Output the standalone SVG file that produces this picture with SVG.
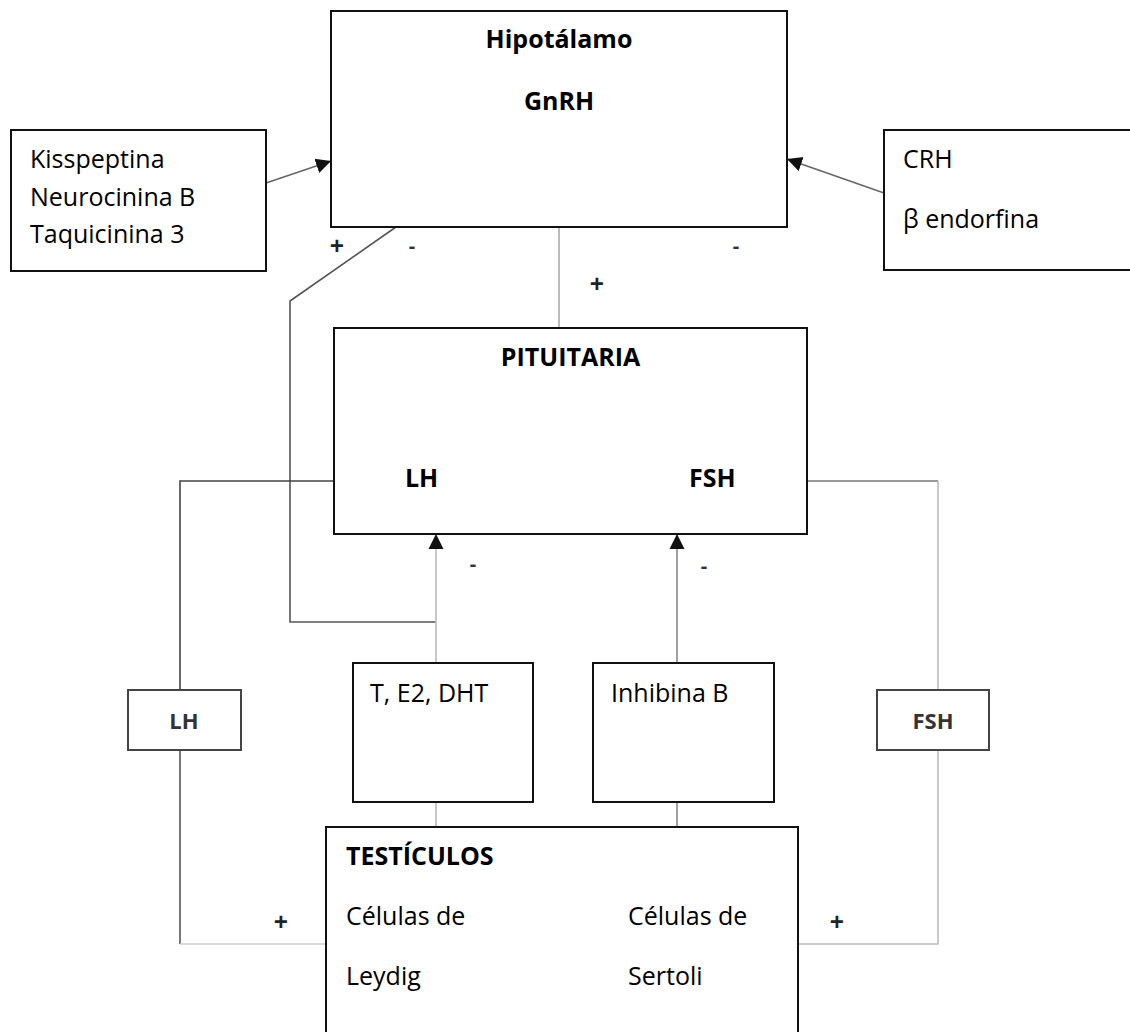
<svg xmlns="http://www.w3.org/2000/svg" width="1130" height="1032" viewBox="0 0 1130 1032">
<style>
  .box { fill: #fff; stroke: #111; stroke-width: 2; }
  .sbox { fill: #fff; stroke: #444; stroke-width: 2; }
  .t { font-family: "Open Sans", "Liberation Sans", sans-serif; font-size: 25px; fill: #000; }
  .b { font-family: "Open Sans", "Liberation Sans", sans-serif; font-size: 25px; font-weight: bold; fill: #000; }
  .s { font-family: "Open Sans", "Liberation Sans", sans-serif; font-size: 22px; font-weight: bold; fill: #333; text-anchor: middle; }
  .plus { font-family: "Open Sans", "Liberation Sans", sans-serif; font-size: 25px; font-weight: bold; fill: #222; text-anchor: middle; }
  .minus { font-family: "Open Sans", "Liberation Sans", sans-serif; font-size: 20px; font-weight: bold; fill: #333; text-anchor: middle; }
  .c { fill: none; stroke-width: 1.6; }
</style>
<defs>
  <marker id="arr" viewBox="0 0 15 16" refX="15" refY="8" markerWidth="15" markerHeight="16" orient="auto" markerUnits="userSpaceOnUse">
    <path d="M0,0.5 L15,8 L0,15.5 z" fill="#111"/>
  </marker>
</defs>
<rect width="1130" height="1032" fill="#fff"/>

<g id="connectors">
  <path class="c" stroke="#666" d="M266,183 L331,161" marker-end="url(#arr)"/>
  <path class="c" stroke="#666" d="M884,193 L787,159" marker-end="url(#arr)"/>
  <path class="c" stroke="#aaa" d="M559,227 L559,328"/>
  <path class="c" stroke="#555" d="M396,227 L290,301 L290,622 L436,622"/>
  <path class="c" stroke="#bbb" d="M436,663 L436,534" marker-end="url(#arr)"/>
  <path class="c" stroke="#bbb" d="M436,802 L436,827"/>
  <path class="c" stroke="#888" d="M677,663 L677,534" marker-end="url(#arr)"/>
  <path class="c" stroke="#888" d="M677,802 L677,827"/>
  <path class="c" stroke="#444" d="M334,481 L180,481 L180,690"/>
  <path class="c" stroke="#555" d="M180,750 L180,944"/>
  <path class="c" stroke="#ccc" d="M180,944 L326,944"/>
  <path class="c" stroke="#777" d="M807,481 L938,481"/>
  <path class="c" stroke="#bbb" d="M938,481 L938,690"/>
  <path class="c" stroke="#bbb" d="M938,750 L938,944 L798,944"/>
  <text class="plus" x="337" y="255">+</text>
  <text class="minus" x="412" y="253">-</text>
  <text class="minus" x="736" y="253">-</text>
  <text class="plus" x="597" y="293">+</text>
  <text class="minus" x="473" y="571" fill="#556">-</text>
  <text class="minus" x="704" y="573" fill="#556">-</text>
  <text class="plus" x="281" y="931">+</text>
  <text class="plus" x="837" y="931">+</text>
</g>

<g id="hipotalamo">
  <rect class="box" x="331" y="11" width="456" height="216"/>
  <text class="b" x="559" y="48" text-anchor="middle">Hipotálamo</text>
  <text class="b" x="559" y="110" text-anchor="middle">GnRH</text>
</g>

<g id="kisspeptina">
  <rect class="box" x="11" y="130" width="255" height="141"/>
  <text class="t" x="30" y="168">Kisspeptina</text>
  <text class="t" x="30" y="206">Neurocinina B</text>
  <text class="t" x="30" y="243">Taquicinina 3</text>
</g>

<g id="crh">
  <rect class="box" x="884" y="130" width="260" height="140"/>
  <text class="t" x="903" y="168">CRH</text>
  <text class="t" x="903" y="228">β endorfina</text>
</g>

<g id="pituitaria">
  <rect class="box" x="334" y="328" width="473" height="206"/>
  <text class="b" x="570.5" y="366" text-anchor="middle">PITUITARIA</text>
  <text class="b" x="405" y="487">LH</text>
  <text class="b" x="689" y="487">FSH</text>
</g>

<g id="lh-box">
  <rect class="sbox" x="128" y="690" width="113" height="60"/>
  <text class="s" x="184" y="729">LH</text>
</g>

<g id="fsh-box">
  <rect class="sbox" x="877" y="690" width="112" height="60"/>
  <text class="s" x="933" y="729">FSH</text>
</g>

<g id="t-e2-dht">
  <rect class="box" x="353" y="663" width="180" height="139"/>
  <text class="t" x="370" y="702">T, E2, DHT</text>
</g>

<g id="inhibina">
  <rect class="box" x="593" y="663" width="181" height="139"/>
  <text class="t" x="611" y="702">Inhibina B</text>
</g>

<g id="testiculos">
  <rect class="box" x="326" y="827" width="472" height="220"/>
  <text class="b" x="346" y="865">TESTÍCULOS</text>
  <text class="t" x="346" y="925">Células de</text>
  <text class="t" x="346" y="985">Leydig</text>
  <text class="t" x="628" y="925">Células de</text>
  <text class="t" x="628" y="985">Sertoli</text>
</g>
</svg>
